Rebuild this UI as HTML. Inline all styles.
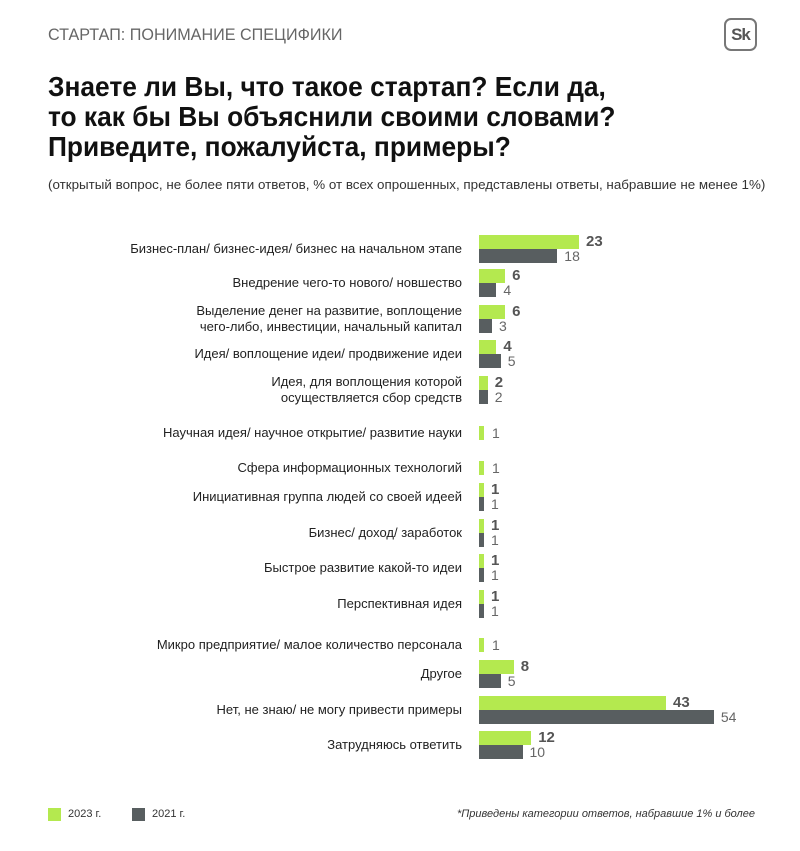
<!DOCTYPE html>
<html><head><meta charset="utf-8"><style>
body{margin:0;width:800px;height:851px;background:#fff;position:relative;font-family:"Liberation Sans",sans-serif;overflow:hidden}
.a{position:absolute;white-space:nowrap}
.lbl{position:absolute;right:338px;text-align:right;font-size:13px;color:#222;line-height:16px;transform:translateY(-50%)}
.g{position:absolute;left:479px;height:14px;background:#b4e94f}
.d{position:absolute;left:479px;height:14px;background:#585e60}
.vg{position:absolute;font-size:15px;font-weight:bold;color:#555;line-height:14px}
.vd{position:absolute;font-size:14px;color:#666;line-height:14px}
</style></head><body>
<div class="a" style="left:48px;top:25px;font-size:17px;color:#666;transform:scaleX(.95);transform-origin:left">СТАРТАП: ПОНИМАНИЕ СПЕЦИФИКИ</div>
<div class="a" style="left:724px;top:18px;width:29px;height:29px;border:2px solid #777;border-radius:7px;text-align:center;font-size:17px;font-weight:bold;line-height:29px;color:#555;letter-spacing:-1px">Sk</div>
<div class="a" style="left:48px;top:72px;font-size:28px;font-weight:bold;line-height:30px;color:#111;transform:scaleX(.94);transform-origin:left">Знаете ли Вы, что такое стартап? Если да,<br>то как бы Вы объяснили своими словами?<br>Приведите, пожалуйста, примеры?</div>
<div class="a" style="left:48px;top:177px;font-size:13px;color:#333;transform:scaleX(1.03);transform-origin:left">(открытый вопрос, не более пяти ответов, % от всех опрошенных, представлены ответы, набравшие не менее 1%)</div>
<div id="c"></div>
<div class="a" style="left:48px;top:808px;width:13px;height:13px;background:#b4e94f"></div>
<div class="a" style="left:68px;top:808px;font-size:11px;color:#333">2023 г.</div>
<div class="a" style="left:132px;top:808px;width:13px;height:13px;background:#585e60"></div>
<div class="a" style="left:152px;top:808px;font-size:11px;color:#333">2021 г.</div>
<div class="a" style="right:45px;top:808px;font-size:11px;font-style:italic;color:#333">*Приведены категории ответов, набравшие 1% и более</div>
<script>
var k=4.35;
var rows=[
[235,"Бизнес-план/ бизнес-идея/ бизнес на начальном этапе",23,18],
[269,"Внедрение чего-то нового/ новшество",6,4],
[305,"Выделение денег на развитие, воплощение<br>чего-либо, инвестиции, начальный капитал",6,3],
[340,"Идея/ воплощение идеи/ продвижение идеи",4,5],
[376,"Идея, для воплощения которой<br>осуществляется сбор средств",2,2],
[426,"Научная идея/ научное открытие/ развитие науки",1,null],
[461,"Сфера информационных технологий",1,null],
[483,"Инициативная группа людей со своей идеей",1,1],
[519,"Бизнес/ доход/ заработок",1,1],
[554,"Быстрое развитие какой-то идеи",1,1],
[590,"Перспективная идея",1,1],
[638,"Микро предприятие/ малое количество персонала",1,null],
[660,"Другое",8,5],
[696,"Нет, не знаю/ не могу привести примеры",43,54],
[731,"Затрудняюсь ответить",12,10]];
var h="";
rows.forEach(function(r){
 var t=r[0],w1=Math.max(5,r[2]*k);
 if(r[3]===null){
  h+='<div class="lbl" style="top:'+(t+7)+'px">'+r[1]+'</div>';
  h+='<div class="g" style="top:'+t+'px;width:'+w1+'px"></div>';
  h+='<div class="vd" style="top:'+t+'px;left:'+(479+w1+8)+'px">'+r[2]+'</div>';
 } else {
  var w2=Math.max(5,r[3]*k);
  h+='<div class="lbl" style="top:'+(t+14)+'px">'+r[1]+'</div>';
  h+='<div class="g" style="top:'+t+'px;width:'+w1+'px"></div>';
  h+='<div class="d" style="top:'+(t+14)+'px;width:'+w2+'px"></div>';
  h+='<div class="vg" style="top:'+t+'px;left:'+(479+w1+7)+'px">'+r[2]+'</div>';
  h+='<div class="vd" style="top:'+(t+14)+'px;left:'+(479+w2+7)+'px">'+r[3]+'</div>';
 }
});
document.getElementById("c").innerHTML=h;
</script>
</body></html>
